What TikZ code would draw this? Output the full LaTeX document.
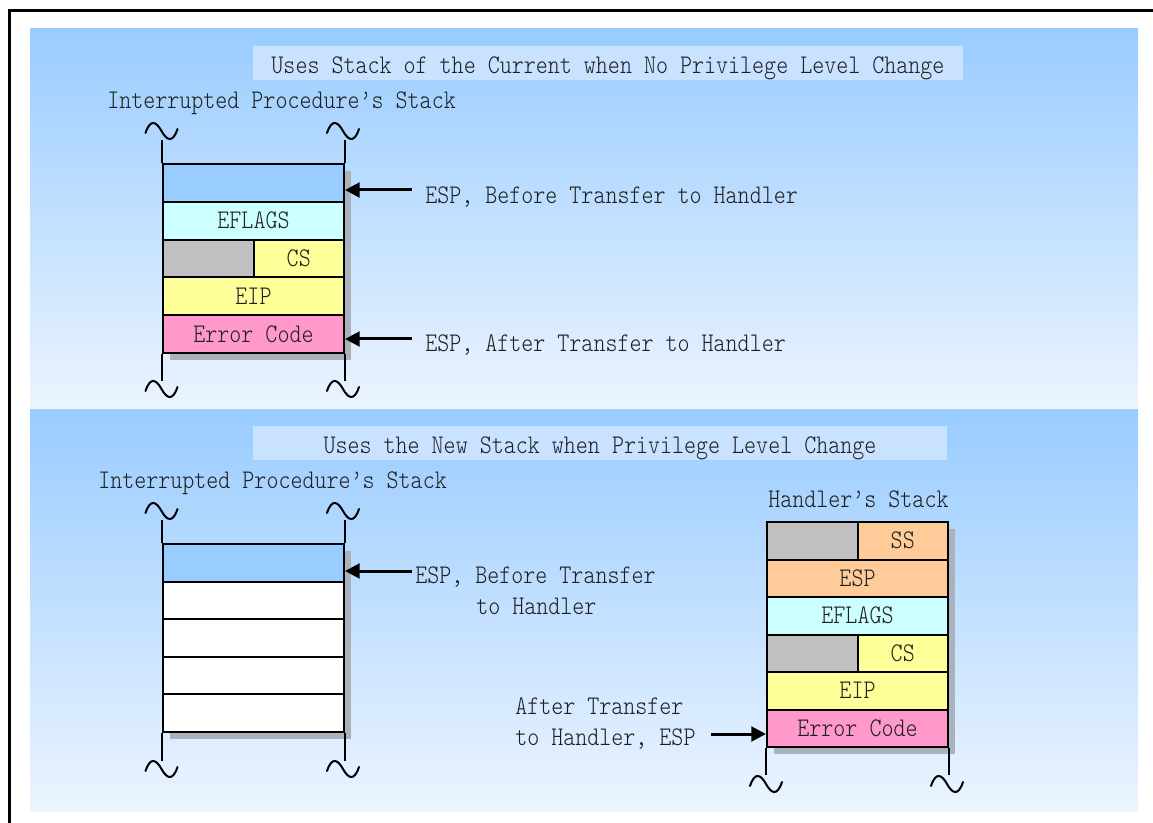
\documentclass[tikz,border=0pt]{standalone}
\usepackage{fontspec}
\newfontfamily\stkfont{lmmonolt10-regular}[Extension=.otf, FakeStretch=0.85]
\usetikzlibrary{arrows.meta}
\definecolor{cblue}{RGB}{153,204,255}
\definecolor{ccyan}{RGB}{204,255,255}
\definecolor{cgray}{RGB}{192,192,192}
\definecolor{cyel}{RGB}{255,255,153}
\definecolor{cpink}{RGB}{255,153,204}
\definecolor{corange}{RGB}{255,204,153}
\definecolor{ctitle}{RGB}{200,226,255}
\definecolor{cpanelbot}{RGB}{236,244,255}
\definecolor{cshadow}{RGB}{172,178,188}
\definecolor{ctext}{RGB}{30,30,30}
\tikzset{
  txt/.style={font=\stkfont\fontsize{20.2pt}{24pt}\selectfont, text=ctext, inner sep=0pt, text height=12.3pt, text depth=0pt},
  row/.style={txt, draw=black, line width=1.5pt, minimum width=135.75pt, minimum height=28.35pt, anchor=north west},
  hrow/.style={row, minimum height=28.125pt},
  half/.style={row, minimum width=67.875pt},
  hhalf/.style={hrow, minimum width=67.875pt},
  titlebox/.style={txt, fill=ctitle, text height=16pt, text depth=0pt, minimum height=25.5pt},
  stk/.style={line width=1.5pt},
  arr/.style={line width=2.25pt, -{Triangle[length=11pt,width=11pt]}},
  shadowbox/.style={fill=cshadow},
  tld/.pic={\draw[line width=1.5pt, line cap=round] (-16,2) .. controls (-11,-13) and (-5,-9) .. (0,0) .. controls (5,9) and (11,13) .. (16,-2);}
}
\begin{document}
\begin{tikzpicture}[x=0.75pt,y=-0.75pt]
\useasboundingbox (0,0) rectangle (1153,823);
\fill[white] (0,0) rectangle (1153,823);
% frame
\draw[line width=2.25pt] (9,823) -- (9,11) -- (1153,11);
% panels
\shade[top color=cblue, bottom color=cpanelbot] (30,29) rectangle (1138,410);
\shade[top color=cblue, bottom color=cpanelbot] (30,410) rectangle (1138,811);
% titles
\node[titlebox, minimum width=532.5pt] (t1) at (608,63) {Uses Stack of the Current when No Privilege Level Change};
\node[titlebox, minimum width=520.5pt] (t2) at (600,443) {Uses the New Stack when Privilege Level Change};

% ---------------- top stack ----------------
\node[txt, anchor=west] (l1) at (107,100.5) {Interrupted Procedure’s Stack};
\fill[shadowbox] (170,171) rectangle (351,360);
\node[row, fill=cblue] (a1) at (162,163) {};
\node[row, fill=ccyan] (a2) at (162,200.8) {EFLAGS};
\node[half, fill=cgray] (a3g) at (162,238.6) {};
\node[half, fill=cyel] (a3) at (252.5,238.6) {CS};
\node[row, fill=cyel] (a4) at (162,276.4) {EIP};
\node[row, fill=cpink] (a5) at (162,314.2) {Error Code};
\draw[stk] (a1.north west) -- ++(0,-23);
\draw[stk] (a1.north east) -- ++(0,-23);
\draw[stk] (a5.south west) -- ++(0,27);
\draw[stk] (a5.south east) -- ++(0,27);
\pic at (161.5,131) {tld};
\pic at (343,131) {tld};
\pic at (161.5,389) {tld};
\pic at (343,389) {tld};
\node[txt, anchor=west] (e1) at (425,195) {ESP, Before Transfer to Handler};
\node[txt, anchor=west] (e2) at (425,343) {ESP, After Transfer to Handler};
\coordinate (c1) at (412,190);
\coordinate (c2) at (412,339);
\draw[arr] (c1) -- (c1 -| a1.east);
\draw[arr] (c2) -- (c2 -| a5.east);

% ---------------- bottom-left stack ----------------
\node[txt, anchor=west] (l2) at (98,480) {Interrupted Procedure’s Stack};
\fill[shadowbox] (170,551) rectangle (351,739);
\node[row, fill=cblue, minimum height=28.2pt] (b1) at (162,543) {};
\node[row, fill=white, minimum height=28.2pt] (b2) at (162,580.6) {};
\node[row, fill=white, minimum height=28.2pt] (b3) at (162,618.2) {};
\node[row, fill=white, minimum height=28.2pt] (b4) at (162,655.8) {};
\node[row, fill=white, minimum height=28.2pt] (b5) at (162,693.4) {};
\draw[stk] (b1.north west) -- ++(0,-23);
\draw[stk] (b1.north east) -- ++(0,-23);
\draw[stk] (b5.south west) -- ++(0,28);
\draw[stk] (b5.south east) -- ++(0,28);
\pic at (161.5,511) {tld};
\pic at (343,511) {tld};
\pic at (161.5,769) {tld};
\pic at (343,769) {tld};
\node[txt, anchor=west] (e3) at (415,575) {ESP, Before Transfer};
\node[txt, anchor=west] (e3b) at (476,606) {to Handler};
\coordinate (c3) at (412,571);
\draw[arr] (c3) -- (c3 -| b1.east);

% ---------------- handler stack ----------------
\node[txt, anchor=west] (l3) at (768,499) {Handler’s Stack};
\fill[shadowbox] (774,529) rectangle (955,754);
\node[hhalf, fill=cgray] (h1g) at (766,521) {};
\node[hhalf, fill=corange] (h1) at (856.5,521) {SS};
\node[hrow, fill=corange] (h2) at (766,558.5) {ESP};
\node[hrow, fill=ccyan] (h3) at (766,596) {EFLAGS};
\node[hhalf, fill=cgray] (h4g) at (766,633.5) {};
\node[hhalf, fill=cyel] (h4) at (856.5,633.5) {CS};
\node[hrow, fill=cyel] (h5) at (766,671) {EIP};
\node[hrow, fill=cpink] (h6) at (766,708.5) {Error Code};
\draw[stk] (h6.south west) -- ++(0,27);
\draw[stk] (h6.south east) -- ++(0,27);
\pic at (766,784) {tld};
\pic at (947,784) {tld};
\node[txt, anchor=west] (e4) at (515,706) {After Transfer};
\node[txt, anchor=west] (e4b) at (515,737.5) {to Handler, ESP};
\coordinate (c4) at (711,734);
\draw[arr] (c4) -- (c4 -| h6.west);
\end{tikzpicture}
\end{document}
